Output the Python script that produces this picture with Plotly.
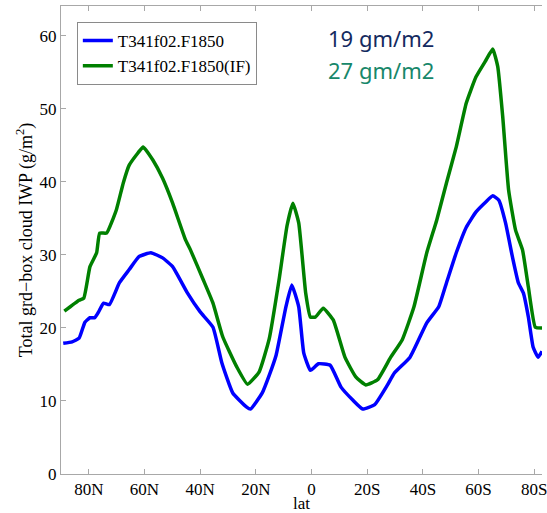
import plotly.graph_objects as go

# latitude in degrees (positive = north)
lat_blue = [89.2, 86.0, 83.5, 81.4, 79.6, 77.9, 76.5, 74.7, 72.6, 69.0, 65.5, 61.9, 57.7,
            53.5, 49.9, 44.6, 40.0, 35.4, 32.2, 28.3, 23.4, 21.9, 17.7, 15.2, 12.7, 9.2, 7.1,
            4.6, 2.8, 0.4, -2.5, -6.7, -10.6, -14.9, -18.4, -22.7, -27.3, -29.7, -35.4,
            -41.4, -45.7, -48.5, -52.0, -55.6, -59.1, -62.7, -65.1, -67.3, -69.7, -72.2,
            -74.3, -76.1, -77.9, -79.6, -81.4, -82.8]
iwp_blue = [17.9, 18.1, 18.6, 20.8, 21.4, 21.4, 22.2, 23.4, 23.2, 26.2, 28.0, 29.8, 30.3,
            29.6, 28.4, 24.8, 22.2, 20.1, 15.2, 11.1, 9.2, 8.9, 11.1, 13.5, 16.3, 22.9, 25.9,
            22.9, 16.6, 14.2, 15.1, 14.9, 11.9, 10.1, 8.9, 9.5, 12.2, 13.8, 16.0,
            20.7, 22.9, 26.2, 30.3, 33.8, 35.9, 37.3, 38.1, 37.5, 34.4, 29.7,
            26.2, 24.8, 21.5, 17.4, 16.0, 16.8]

lat_green = [88.8, 83.5, 81.8, 79.6, 77.2, 76.1, 73.6, 70.1, 67.6, 65.5, 62.3, 60.5, 57.0,
             53.5, 49.9, 45.3, 43.5, 38.9, 35.4, 31.9, 26.9, 23.0, 18.8, 15.2, 11.7, 8.8,
             6.7, 4.6, 2.1, 0.4, -1.4, -4.2, -7.8, -12.0, -15.9, -19.5, -23.7, -28.3, -32.6,
             -36.8, -41.4, -45.0, -48.5, -52.0, -55.6, -59.1, -62.7, -65.1, -66.9, -68.7,
             -70.8, -73.3, -75.8, -77.9, -80.4, -82.8]
iwp_green = [22.3, 23.8, 24.1, 28.4, 30.3, 33.0, 33.0, 36.2, 39.9, 42.3, 44.0, 44.8, 43.0,
             40.5, 37.1, 32.1, 30.7, 26.6, 23.4, 18.8, 14.7, 12.3, 14.0, 18.5, 26.5, 34.0,
             37.1, 34.4, 24.8, 21.5, 21.5, 22.7, 21.1, 16.0, 13.3, 12.2, 12.9, 15.9, 18.4,
             22.9, 30.3, 34.8, 39.9, 44.8, 50.8, 54.4, 56.7, 58.2, 55.8, 48.9,
             38.9, 33.4, 30.7, 25.6, 20.1, 20.0]

tick_vals = [80, 60, 40, 20, 0, -20, -40, -60, -80]
tick_text = ["80N", "60N", "40N", "20N", "0", "20S", "40S", "60S", "80S"]
y_ticks = [0, 10, 20, 30, 40, 50, 60]

name_blue = "T341f02.F1850"
name_green = "T341f02.F1850(IF)"
note_blue = "19 gm/m2"
note_green = "27 gm/m2"

serif = "Liberation Serif, Times New Roman, serif"

fig = go.Figure()
fig.add_trace(go.Scatter(x=lat_blue, y=iwp_blue, mode="lines", name=name_blue,
                         line=dict(color="#0000ff", width=3.5, shape="spline", smoothing=0.4)))
fig.add_trace(go.Scatter(x=lat_green, y=iwp_green, mode="lines", name=name_green,
                         line=dict(color="#008000", width=3.5, shape="spline", smoothing=0.4)))

fig.add_annotation(text=note_blue, x=(384 - 61) / 486, y=(474 - 38) / 468,
                   xref="paper", yref="paper", showarrow=False, xanchor="center", yanchor="middle",
                   font=dict(family="Noto Sans", size=22, color="#142a60"))
fig.add_annotation(text=note_green, x=(384 - 61) / 486, y=(474 - 70) / 468,
                   xref="paper", yref="paper", showarrow=False, xanchor="center", yanchor="middle",
                   font=dict(family="Noto Sans", size=22, color="#17876a"))

axis_gray = "#a8a8a8"
fig.update_layout(
    width=547, height=513,
    margin=dict(l=61, r=0, t=6, b=39),
    paper_bgcolor="white", plot_bgcolor="white",
    showlegend=True,
    legend=dict(x=(77 - 61) / 486, y=(474 - 22) / 468, xanchor="left", yanchor="top",
                bgcolor="white", bordercolor="#8a8a8a", borderwidth=1,
                font=dict(family=serif, size=17, color="black"),
                itemwidth=30, tracegroupgap=0),
    xaxis=dict(range=[90, -82.8], tickvals=tick_vals, ticktext=tick_text,
               showgrid=False, zeroline=False, showline=True, linecolor=axis_gray, linewidth=1,
               mirror="ticks", ticks="inside", ticklen=5, tickcolor=axis_gray,
               ticklabeloverflow="allow",
               tickfont=dict(family=serif, size=17, color="black"),
               title=dict(text="lat", font=dict(family=serif, size=17, color="black"), standoff=2)),
    yaxis=dict(range=[0, 64.1], tickvals=y_ticks,
               showgrid=False, zeroline=False, showline=True, linecolor=axis_gray, linewidth=1,
               ticks="inside", ticklen=5, tickcolor=axis_gray,
               tickfont=dict(family=serif, size=17, color="black"),
               title=dict(text="Total grd\u2212box cloud IWP (g/m<sup>2</sup>)",
                          font=dict(family=serif, size=18, color="black"), standoff=2)),
)

fig.write_html("out.html")
